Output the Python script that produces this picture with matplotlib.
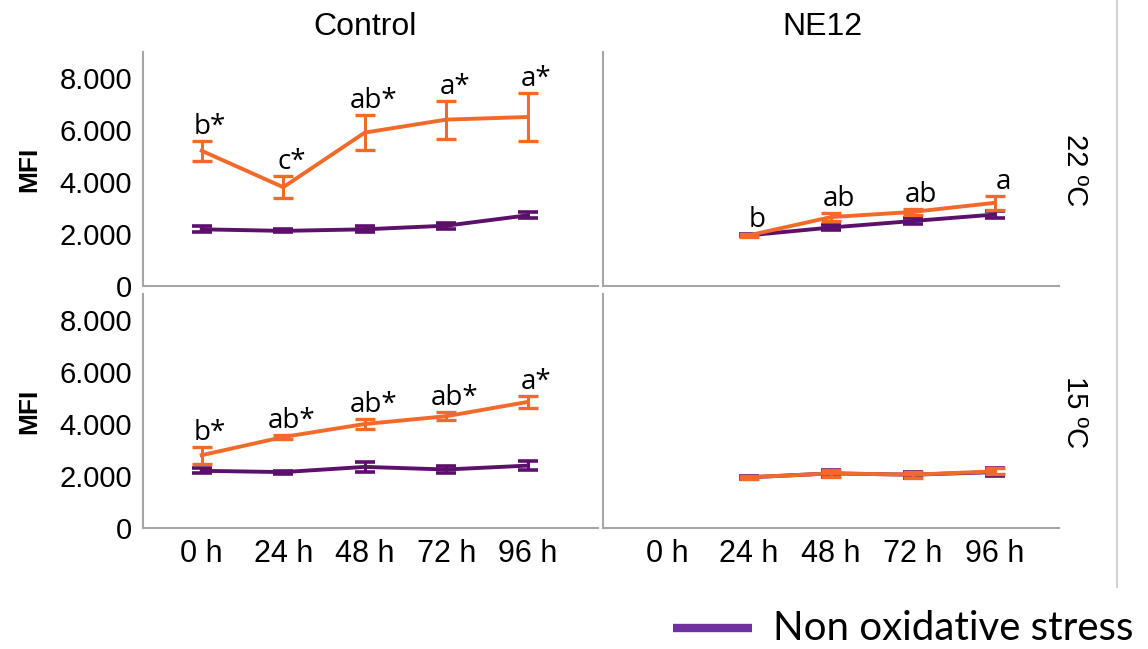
import numpy as np
import matplotlib
matplotlib.use('Agg')
import matplotlib.pyplot as plt
from matplotlib.lines import Line2D

# ── data ───────────────────────────────────────────────────────────
times = ['0 h', '24 h', '48 h', '72 h', '96 h']
columns = ['Control', 'NE12']
rows = ['22 ºC', '15 ºC']

# Control, 22 °C
c22_ox = [5200, 3800, 5900, 6400, 6500]
c22_ox_err = [380, 420, 670, 730, 920]
c22_non = [2180, 2120, 2180, 2320, 2720]
c22_non_err = [110, 60, 120, 110, 120]
c22_letters = ['b*', 'c*', 'ab*', 'a*', 'a*']

# NE12, 22 °C (no 0 h sample)
n22_ox = [np.nan, 1950, 2650, 2850, 3200]
n22_ox_err = [0, 50, 150, 120, 280]
n22_non = [np.nan, 1950, 2250, 2500, 2750]
n22_non_err = [0, 40, 100, 100, 150]
n22_letters = ['', 'b', 'ab', 'ab', 'a']

# Control, 15 °C
c15_ox = [2800, 3500, 4000, 4300, 4850]
c15_ox_err = [330, 80, 200, 160, 230]
c15_non = [2200, 2150, 2350, 2250, 2400]
c15_non_err = [100, 60, 180, 150, 180]
c15_letters = ['b*', 'ab*', 'ab*', 'ab*', 'a*']

# NE12, 15 °C
n15_ox = [np.nan, 1950, 2100, 2050, 2180]
n15_ox_err = [0, 50, 120, 110, 120]
n15_non = [np.nan, 1950, 2100, 2050, 2150]
n15_non_err = [0, 50, 120, 110, 150]
n15_letters = ['', '', '', '', '']

ORANGE = '#F26A2A'
PURPLE = '#5C106C'
GRID = '#A6A6A6'

W, H = 1148, 649
fig = plt.figure(figsize=(W / 100, H / 100), dpi=100)


def px_axes(x0, y0, x1, y1):
    return fig.add_axes([x0 / W, 1 - y1 / H, (x1 - x0) / W, (y1 - y0) / H])


def panel(ax, ox, oxe, non, none, letters, xlim, left, bottom):
    x = np.arange(len(times))
    ax.errorbar(x, non, yerr=none, color=PURPLE, lw=2.8, capsize=7.5,
                capthick=2.6, elinewidth=2.2, zorder=3)
    ax.errorbar(x, ox, yerr=oxe, color=ORANGE, lw=2.8, capsize=7.5,
                capthick=2.4, elinewidth=2.2, zorder=4)
    for xi, m, e, lab in zip(x, ox, oxe, letters):
        if lab:
            ax.annotate(lab, (xi, m + e), xytext=(6, 0), textcoords='offset points',
                        ha='center', va='bottom', fontsize=20, family='Open Sans')
    ax.set_xlim(*xlim)
    ax.set_ylim(0, 9000)
    ax.set_yticks([0, 2000, 4000, 6000, 8000])
    ax.set_xticks(x)
    for s in ['top', 'right']:
        ax.spines[s].set_visible(False)
    for s in ['left', 'bottom']:
        ax.spines[s].set_color(GRID)
        ax.spines[s].set_linewidth(1.5)
    ax.tick_params(length=0, pad=8)
    if left:
        ax.set_yticklabels(['0', '2.000', '4.000', '6.000', '8.000'],
                           fontsize=21, family='Liberation Sans')
        ax.set_ylabel('MFI', fontsize=19, fontweight='bold',
                      family='Liberation Sans', labelpad=13)
    else:
        ax.set_yticklabels([])
    if bottom:
        ax.set_xticklabels(times, fontsize=22, family='Liberation Sans')
    else:
        ax.set_xticklabels([])


ax_tl = px_axes(143, 52, 598, 286)
ax_tr = px_axes(603, 52, 1059, 286)
ax_bl = px_axes(143, 294, 598, 528)
ax_br = px_axes(603, 294, 1059, 528)

panel(ax_tl, c22_ox, c22_ox_err, c22_non, c22_non_err, c22_letters, (-0.72, 4.86), True, False)
panel(ax_tr, n22_ox, n22_ox_err, n22_non, n22_non_err, n22_letters, (-0.78, 4.78), False, False)
panel(ax_bl, c15_ox, c15_ox_err, c15_non, c15_non_err, c15_letters, (-0.72, 4.86), True, True)
panel(ax_br, n15_ox, n15_ox_err, n15_non, n15_non_err, n15_letters, (-0.78, 4.78), False, True)

# column and row headers
fig.text(365 / W, 1 - 27 / H, columns[0], ha='center', va='center',
         fontsize=23, family='Liberation Sans')
fig.text(822 / W, 1 - 27 / H, columns[1], ha='center', va='center',
         fontsize=23, family='Liberation Sans')
fig.text(1075 / W, 1 - 170 / H, rows[0], ha='center', va='center', rotation=-90,
         fontsize=21, family='Liberation Sans')
fig.text(1075 / W, 1 - 412 / H, rows[1], ha='center', va='center', rotation=-90,
         fontsize=21, family='Liberation Sans')

# right frame line
fig.add_artist(Line2D([1117 / W, 1117 / W], [1 - 587 / H, 1.0],
                      transform=fig.transFigure, color='#C8C8C8', lw=1.2))

# legend entry (only the first one is visible in the crop)
fig.add_artist(Line2D([673 / W, 752 / W], [1 - 628 / H, 1 - 628 / H],
                      transform=fig.transFigure, color='#7030A0', lw=6,
                      solid_capstyle='butt'))
fig.text(773 / W, 1 - 628 / H, 'Non oxidative stress', ha='left', va='center',
         fontsize=29, family='Lato')

plt.savefig('out.png', dpi=100)
